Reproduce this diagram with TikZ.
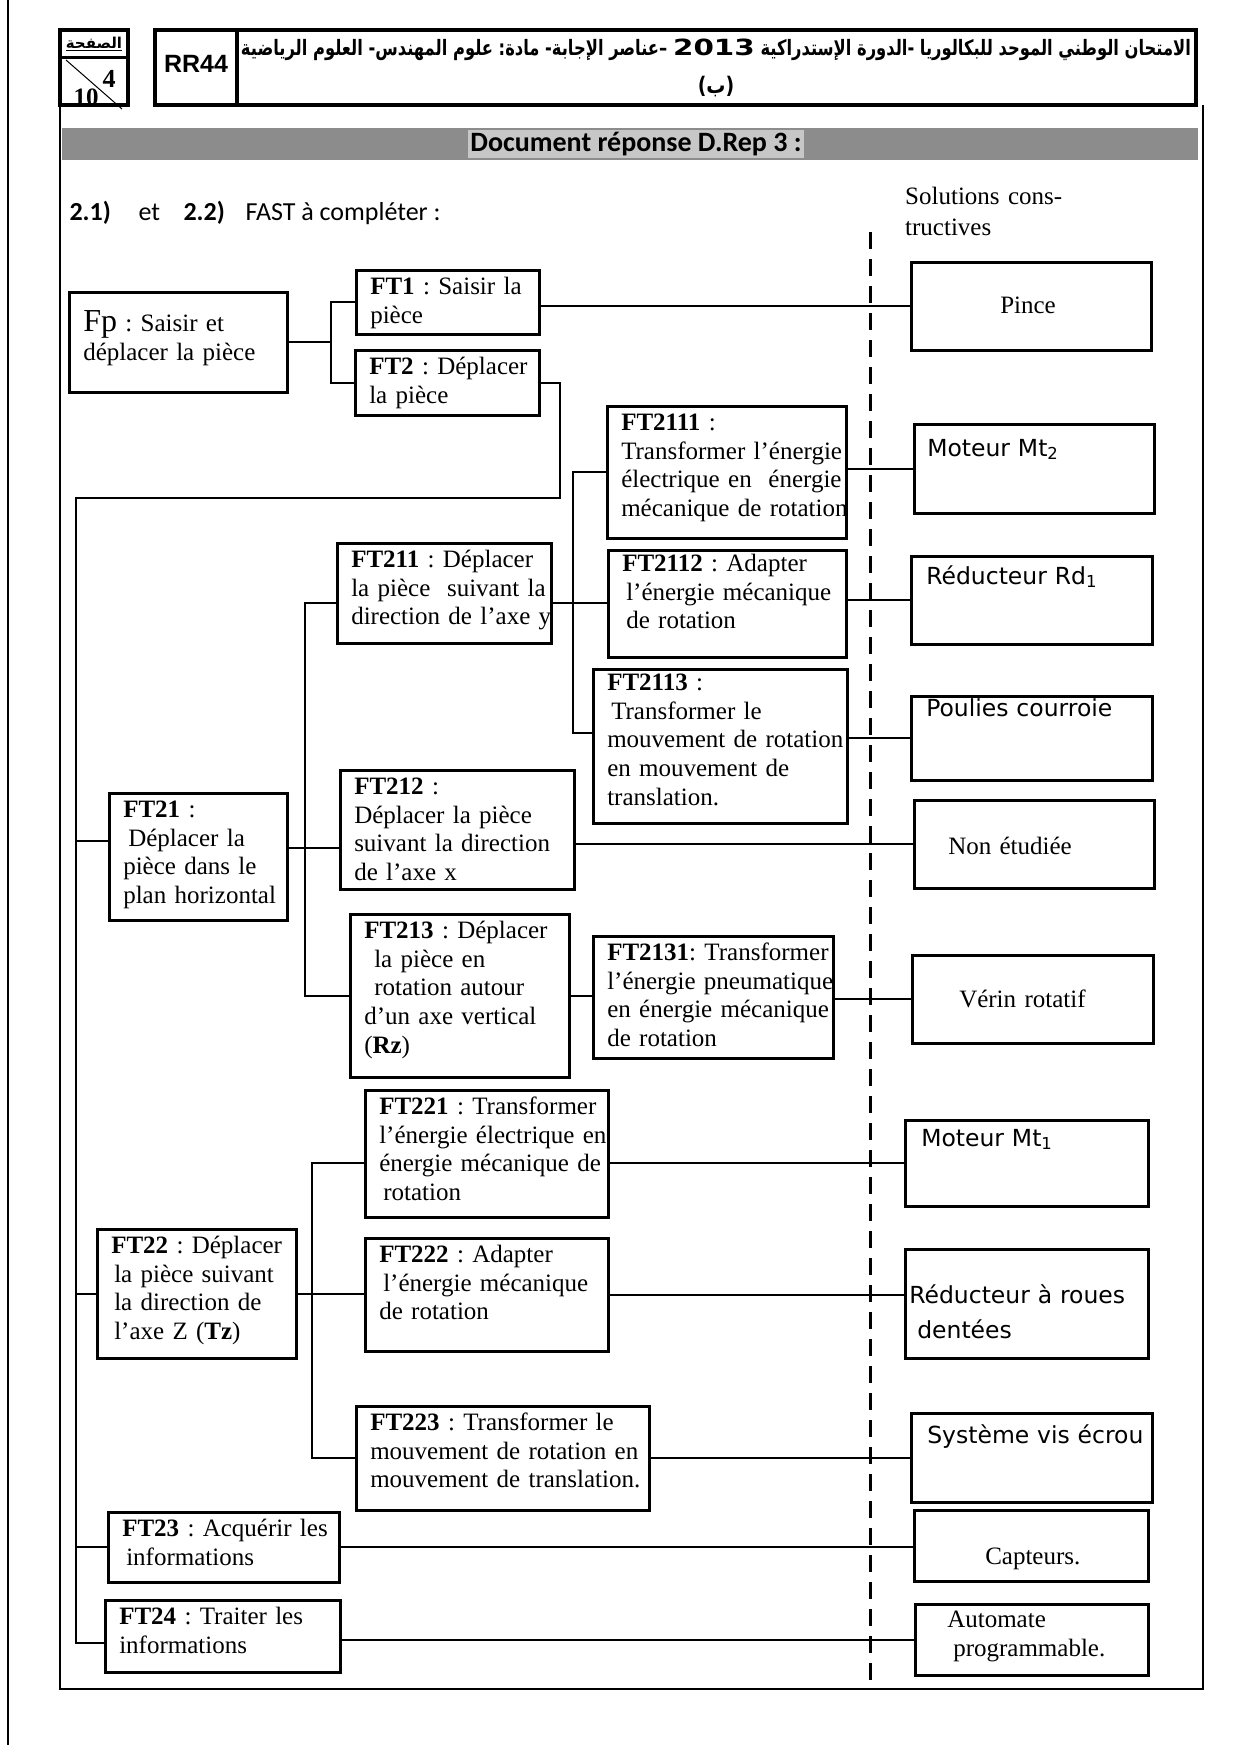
\documentclass[tikz,border=0pt]{standalone}
\usepackage{fontspec}
\setmainfont{Liberation Serif}
\newfontfamily\comicfont{DejaVu Sans}
\newfontfamily\calibrifont{Carlito}
\newfontfamily\arialfont{Liberation Sans}
\newfontfamily\anneefont{DejaVu Sans}
\newfontfamily\arabicfont[Script=Arabic]{DejaVu Sans}
\TeXXeTstate=1
\frenchspacing

\begin{document}
\begin{tikzpicture}[x=1pt,y=-1pt,
  fn/.style={draw, line width=2.5pt, anchor=north west, inner xsep=2pt, inner ysep=4pt,
    align=left, text height=20pt, font=\fontsize{25}{28.8}\selectfont,
    execute at begin node={\leftskip=#1\rightskip=-20pt plus 1fil}},
  fn/.default=12pt,
  sol/.style={fn=#1},
  sol/.default=12pt,
  comic/.style={font=\comicfont\fontsize{23.5}{35}\selectfont},
  link/.style={line width=2pt}]
  \useasboundingbox (0,0) rectangle (1240,1754);

  % en-tete
  \draw[line width=2pt] (8,0) -- (8,1745);
  \draw[line width=4pt] (60,30) rectangle (128,105);
  \draw[line width=3pt] (60,57) -- (128,57);
  \draw[line width=1pt] (66,60) -- (122,109);
  \draw[line width=4pt] (155,30) rectangle (1196,105);
  \draw[line width=4pt] (237,30) -- (237,105);
  \node[font=\arabicfont\bfseries\fontsize{15}{15}\selectfont] (page) at (94,44) {\underline{\beginR الصفحة\endR}};
  \node[font=\bfseries\fontsize{26}{26}\selectfont] (num) at (109,79) {4};
  \node[font=\bfseries\fontsize{25}{25}\selectfont] (total) at (86,97) {10};
  \node[font=\arialfont\bfseries\fontsize{25}{25}\selectfont] (code) at (196,64) {RR44};
  \node[font=\arabicfont\bfseries\fontsize{19}{22}\selectfont] (titre) at (716,50)
    {\scalebox{1}[1.3]{\resizebox{950pt}{!}{\beginR الامتحان الوطني الموحد للبكالوريا -الدورة الإستدراكية \beginL{\anneefont\scalebox{1.8}[1.05]{2013}}\endL{} –عناصر الإجابة- مادة: علوم المهندس- العلوم الرياضية\endR}}};
  \node[font=\arabicfont\bfseries\fontsize{19}{22}\selectfont] (serie) at (716,87) {\scalebox{1}[1.2]{\beginR(ب)\endR}};

  \fill[black!45] (62,128) rectangle (1198,160);
  \node[fill=black!22, inner sep=2pt, font=\calibrifont\bfseries\fontsize{28}{28}\selectfont] (docrep) at (636,144) {Document réponse D.Rep 3 :};
  \node[anchor=base west, font=\calibrifont\fontsize{26}{26}\selectfont] (question) at (66,220)
    {\makebox[69pt][l]{\textbf{2.1)}}\makebox[45pt][l]{et}\makebox[62pt][l]{\textbf{2.2)}}FAST à compléter :};
  \node[anchor=base west, text width=170pt, align=left, inner sep=0pt, font=\fontsize{25}{31}\selectfont] (solutions) at (905,204) {Solutions cons-\\tructives};

  % cadre
  \draw[line width=2.5pt] (60,105) -- (60,1689) -- (1203,1689) -- (1203,105);
  \draw[line width=3pt, dash pattern=on 17pt off 10pt] (870,232) -- (870,1689);

  % fonctions
  \node[fn, text width=214pt, text height=35pt, text depth=57pt] (fp) at (68,291) {{\fontsize{32}{32}\selectfont Fp} : Saisir et\\déplacer la pièce};
  \node[fn, text width=179pt, text depth=36pt] (ft1) at (355,269) {\textbf{FT1} : Saisir la\\pièce};
  \node[fn, text width=180pt, text depth=37pt] (ft2) at (354,349) {\textbf{FT2} : Déplacer\\la pièce};
  \node[fn, text width=174pt, text depth=99pt] (ft21) at (108,792) {\textbf{FT21} :\\\hspace*{5pt}Déplacer la\\pièce dans le\\plan horizontal};
  \node[fn, text width=210pt, text depth=72pt] (ft211) at (336,542) {\textbf{FT211} : Déplacer\\la pièce\ \ suivant la\\direction de l’axe y};
  \node[fn, text width=235pt, text depth=104pt] (ft2111) at (606,405) {\textbf{FT2111} :\\Transformer l’énergie\\électrique en\ \ énergie\\mécanique de rotation};
  \node[fn, text width=234pt, text height=17pt, text depth=82pt] (ft2112) at (607,549) {\textbf{FT2112} : Adapter\\\hspace*{4pt}l’énergie mécanique\\\hspace*{4pt}de rotation};
  \node[fn, text width=250pt, text height=17pt, text depth=129pt] (ft2113) at (592,668) {\textbf{FT2113} :\\\hspace*{4pt}Transformer le\\mouvement de rotation\\en mouvement de\\translation.};
  \node[fn, text width=230pt, text depth=91pt] (ft212) at (339,769) {\textbf{FT212} :\\Déplacer la pièce\\suivant la direction\\de l’axe x};
  \node[fn, text width=215pt, text depth=135pt] (ft213) at (349,913) {\textbf{FT213} : Déplacer\\\hspace*{10pt}la pièce en\\\hspace*{10pt}rotation autour\\d’un axe vertical\\(\textbf{Rz})};
  \node[fn, text width=236pt, text depth=94pt] (ft2131) at (592,935) {\textbf{FT2131}: Transformer\\l’énergie pneumatique\\en énergie mécanique\\de rotation};
  \node[fn, text width=195pt, text depth=101pt] (ft22) at (96,1228) {\textbf{FT22} : Déplacer\\\hspace*{3pt}la pièce suivant\\\hspace*{3pt}la direction de\\\hspace*{3pt}l’axe Z (\textbf{Tz})};
  \node[fn, text width=239pt, text depth=99pt] (ft221) at (364,1089) {\textbf{FT221} : Transformer\\l’énergie électrique en\\énergie mécanique de\\\hspace*{4pt}rotation};
  \node[fn, text width=239pt, text depth=85pt] (ft222) at (364,1237) {\textbf{FT222} : Adapter\\\hspace*{4pt}l’énergie mécanique\\de rotation};
  \node[fn, text width=289pt, text depth=76pt] (ft223) at (355,1405) {\textbf{FT223} : Transformer le\\mouvement de rotation en\\mouvement de translation.};
  \node[fn, text width=227pt, text depth=42pt] (ft23) at (107,1511) {\textbf{FT23} : Acquérir les\\\hspace*{4pt}informations};
  \node[fn, text width=231pt, text depth=44pt] (ft24) at (104,1599) {\textbf{FT24} : Traiter les\\informations};

  % solutions constructives
  \node[sol=87pt, text width=236pt, text height=47pt, text depth=33pt] (pince) at (910,261) {Pince};
  \node[sol=11pt, comic, text width=236pt, text height=28pt, text depth=53pt] (mt2) at (913,423) {Moteur Mt\textsubscript{2}};
  \node[sol=13pt, comic, text width=237pt, text height=24pt, text depth=56pt] (rd1) at (910,555) {Réducteur Rd\textsubscript{1}};
  \node[sol=13pt, comic, text width=237pt, text height=16pt, text depth=60pt] (poulies) at (910,695) {Poulies courroie};
  \node[sol=32pt, text width=236pt, text height=50pt, text depth=30pt] (nonetud) at (913,799) {Non étudiée};
  \node[sol=45pt, text width=237pt, text height=48pt, text depth=32pt] (verin) at (911,954) {Vérin rotatif};
  \node[sol=14pt, comic, text width=239pt, text height=22pt, text depth=56pt] (mt1) at (904,1119) {Moteur Mt\textsubscript{1}};
  \node[sol=2pt, comic, text width=239pt, text height=50pt, text depth=51pt] (roues) at (904,1248) {Réducteur à roues\\\hspace*{8pt}dentées};
  \node[sol=14pt, comic, text width=237pt, text height=26pt, text depth=55pt] (systeme) at (910,1412) {Système vis écrou};
  \node[sol=69pt, text width=230pt, text height=50pt, text depth=13pt] (capteurs) at (913,1509) {Capteurs.};
  \node[sol=30pt, text width=229pt, text height=19pt, text depth=44pt] (automate) at (914,1603) {Automate\\\hspace*{6pt}programmable.};

  % liaisons
  \draw[link] (ft1.west) -- ++(-24,0) |- (fp.east);
  \draw[link] (ft2.west) -- ++(-23,0) |- (fp.east);
  \draw[link] (pince.west) -- (pince.west -| ft1.east);
  \coordinate (bus) at (76,498);
  \draw[link] (ft2.east) -- ++(19,0) |- (bus) |- ([yshift=-7pt]ft24.west);
  \draw[link] ([yshift=16pt]ft21.west) -- ++(-32,0);
  \draw[link] (ft22.west) -- (ft22.west -| bus);
  \draw[link] (ft23.west) -- (ft23.west -| bus);

  \draw[link] ([yshift=-10pt]ft211.west) -- ++(-31,0) |- (ft213.west);
  \draw[link] ([yshift=9pt]ft21.east) -- ++(53,0);
  \draw[link] ([yshift=-10pt]ft211.east) -- ++(57,0);
  \draw[link] (ft2111.west) -- ++(-33,0) |- ([yshift=13pt]ft2113.west);
  \draw[link] (mt2.west) -- (mt2.west -| ft2111.east);
  \draw[link] (rd1.west) -- (rd1.west -| ft2112.east);
  \draw[link] (poulies.west) -- (poulies.west -| ft2113.east);
  \draw[link] (nonetud.west) -- (nonetud.west -| ft212.east);
  \draw[link] (ft213.east) -- (ft213.east -| ft2131.west);
  \draw[link] (verin.west) -- (verin.west -| ft2131.east);

  \draw[link] ([yshift=-9pt]ft221.west) -- ++(-52,0) |- (ft223.west);
  \draw[link] (ft22.east) -- (ft22.east -| ft222.west);
  \draw[link] (mt1.west) -- (mt1.west -| ft221.east);
  \draw[link] (ft222.east) -- (ft222.east -| roues.west);
  \draw[link] (systeme.west) -- (systeme.west -| ft223.east);
  \draw[link] (ft23.east) -- (ft23.east -| capteurs.west);
  \draw[link] (automate.west) -- (automate.west -| ft24.east);
\end{tikzpicture}
\end{document}
